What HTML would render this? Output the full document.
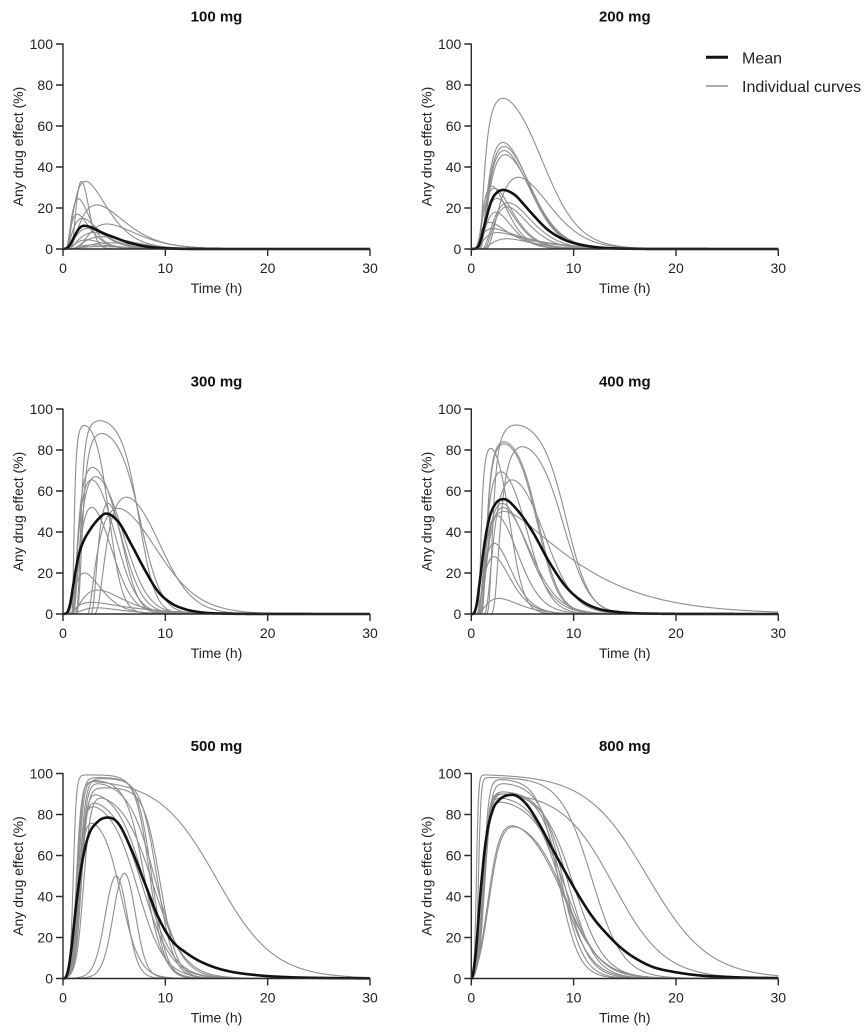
<!DOCTYPE html>
<html>
<head>
<meta charset="utf-8">
<style>
html,body{margin:0;padding:0;background:#fff;}
svg{display:block;}
.ax{stroke:#2a2a2a;stroke-width:1.4;fill:none;}
.tk{font-family:"Liberation Sans",Arial,sans-serif;font-size:14px;fill:#222;}
.lb{font-family:"Liberation Sans",Arial,sans-serif;font-size:14px;fill:#222;}
.tt{font-family:"Liberation Sans",Arial,sans-serif;font-size:15px;font-weight:bold;fill:#111;}
.lg{font-family:"Liberation Sans",Arial,sans-serif;font-size:16px;fill:#222;}
.ind{stroke:#8e8e8e;stroke-width:1.1;fill:none;}
.mean{stroke:#111;stroke-width:2.6;fill:none;stroke-linejoin:round;}
</style>
</head>
<body>
<svg width="867" height="1033" viewBox="0 0 867 1033" xmlns="http://www.w3.org/2000/svg">
<rect width="867" height="1033" fill="#fff"/>

<!-- Panel 1 -->
<g transform="translate(0,0)">
<g id="c0"></g>
<line class="ax" x1="63" y1="43.5" x2="63" y2="249"/>
<line class="ax" x1="62.3" y1="249" x2="370" y2="249"/>
<path class="ax" d="M56,249H63M56,208H63M56,167H63M56,126H63M56,85H63M56,44H63M63,249V256M165.33,249V256M267.67,249V256M370,249V256"/>
<text class="tk" x="53" y="254" text-anchor="end">0</text>
<text class="tk" x="53" y="213" text-anchor="end">20</text>
<text class="tk" x="53" y="172" text-anchor="end">40</text>
<text class="tk" x="53" y="131" text-anchor="end">60</text>
<text class="tk" x="53" y="90" text-anchor="end">80</text>
<text class="tk" x="53" y="49" text-anchor="end">100</text>
<text class="tk" x="63" y="273" text-anchor="middle">0</text>
<text class="tk" x="165.33" y="273" text-anchor="middle">10</text>
<text class="tk" x="267.67" y="273" text-anchor="middle">20</text>
<text class="tk" x="370" y="273" text-anchor="middle">30</text>
<text class="lb" x="216.5" y="293" text-anchor="middle">Time (h)</text>
<text class="lb" transform="translate(23,146.5) rotate(-90)" text-anchor="middle">Any drug effect (%)</text>
<text class="tt" x="216.5" y="21.5" text-anchor="middle">100 mg</text>
</g>

<!-- Panel 2 -->
<g transform="translate(408.3,0)">
<g id="c1"></g>
<line class="ax" x1="63" y1="43.5" x2="63" y2="249"/>
<line class="ax" x1="62.3" y1="249" x2="370" y2="249"/>
<path class="ax" d="M56,249H63M56,208H63M56,167H63M56,126H63M56,85H63M56,44H63M63,249V256M165.33,249V256M267.67,249V256M370,249V256"/>
<text class="tk" x="53" y="254" text-anchor="end">0</text>
<text class="tk" x="53" y="213" text-anchor="end">20</text>
<text class="tk" x="53" y="172" text-anchor="end">40</text>
<text class="tk" x="53" y="131" text-anchor="end">60</text>
<text class="tk" x="53" y="90" text-anchor="end">80</text>
<text class="tk" x="53" y="49" text-anchor="end">100</text>
<text class="tk" x="63" y="273" text-anchor="middle">0</text>
<text class="tk" x="165.33" y="273" text-anchor="middle">10</text>
<text class="tk" x="267.67" y="273" text-anchor="middle">20</text>
<text class="tk" x="370" y="273" text-anchor="middle">30</text>
<text class="lb" x="216.5" y="293" text-anchor="middle">Time (h)</text>
<text class="lb" transform="translate(23,146.5) rotate(-90)" text-anchor="middle">Any drug effect (%)</text>
<text class="tt" x="216.5" y="21.5" text-anchor="middle">200 mg</text>
</g>

<!-- Legend -->
<line x1="706" y1="57.3" x2="728" y2="57.3" stroke="#111" stroke-width="3"/>
<text class="lg" x="742" y="63.3">Mean</text>
<line x1="706" y1="86" x2="728" y2="86" stroke="#8e8e8e" stroke-width="1.5"/>
<text class="lg" x="742" y="92">Individual curves</text>

<!-- Panel 3 -->
<g transform="translate(0,365)">
<g id="c2"></g>
<line class="ax" x1="63" y1="43.5" x2="63" y2="249"/>
<line class="ax" x1="62.3" y1="249" x2="370" y2="249"/>
<path class="ax" d="M56,249H63M56,208H63M56,167H63M56,126H63M56,85H63M56,44H63M63,249V256M165.33,249V256M267.67,249V256M370,249V256"/>
<text class="tk" x="53" y="254" text-anchor="end">0</text>
<text class="tk" x="53" y="213" text-anchor="end">20</text>
<text class="tk" x="53" y="172" text-anchor="end">40</text>
<text class="tk" x="53" y="131" text-anchor="end">60</text>
<text class="tk" x="53" y="90" text-anchor="end">80</text>
<text class="tk" x="53" y="49" text-anchor="end">100</text>
<text class="tk" x="63" y="273" text-anchor="middle">0</text>
<text class="tk" x="165.33" y="273" text-anchor="middle">10</text>
<text class="tk" x="267.67" y="273" text-anchor="middle">20</text>
<text class="tk" x="370" y="273" text-anchor="middle">30</text>
<text class="lb" x="216.5" y="293" text-anchor="middle">Time (h)</text>
<text class="lb" transform="translate(23,146.5) rotate(-90)" text-anchor="middle">Any drug effect (%)</text>
<text class="tt" x="216.5" y="21.5" text-anchor="middle">300 mg</text>
</g>

<!-- Panel 4 -->
<g transform="translate(408.3,365)">
<g id="c3"></g>
<line class="ax" x1="63" y1="43.5" x2="63" y2="249"/>
<line class="ax" x1="62.3" y1="249" x2="370" y2="249"/>
<path class="ax" d="M56,249H63M56,208H63M56,167H63M56,126H63M56,85H63M56,44H63M63,249V256M165.33,249V256M267.67,249V256M370,249V256"/>
<text class="tk" x="53" y="254" text-anchor="end">0</text>
<text class="tk" x="53" y="213" text-anchor="end">20</text>
<text class="tk" x="53" y="172" text-anchor="end">40</text>
<text class="tk" x="53" y="131" text-anchor="end">60</text>
<text class="tk" x="53" y="90" text-anchor="end">80</text>
<text class="tk" x="53" y="49" text-anchor="end">100</text>
<text class="tk" x="63" y="273" text-anchor="middle">0</text>
<text class="tk" x="165.33" y="273" text-anchor="middle">10</text>
<text class="tk" x="267.67" y="273" text-anchor="middle">20</text>
<text class="tk" x="370" y="273" text-anchor="middle">30</text>
<text class="lb" x="216.5" y="293" text-anchor="middle">Time (h)</text>
<text class="lb" transform="translate(23,146.5) rotate(-90)" text-anchor="middle">Any drug effect (%)</text>
<text class="tt" x="216.5" y="21.5" text-anchor="middle">400 mg</text>
</g>

<!-- Panel 5 -->
<g transform="translate(0,729.5)">
<g id="c4"></g>
<line class="ax" x1="63" y1="43.5" x2="63" y2="249"/>
<line class="ax" x1="62.3" y1="249" x2="370" y2="249"/>
<path class="ax" d="M56,249H63M56,208H63M56,167H63M56,126H63M56,85H63M56,44H63M63,249V256M165.33,249V256M267.67,249V256M370,249V256"/>
<text class="tk" x="53" y="254" text-anchor="end">0</text>
<text class="tk" x="53" y="213" text-anchor="end">20</text>
<text class="tk" x="53" y="172" text-anchor="end">40</text>
<text class="tk" x="53" y="131" text-anchor="end">60</text>
<text class="tk" x="53" y="90" text-anchor="end">80</text>
<text class="tk" x="53" y="49" text-anchor="end">100</text>
<text class="tk" x="63" y="273" text-anchor="middle">0</text>
<text class="tk" x="165.33" y="273" text-anchor="middle">10</text>
<text class="tk" x="267.67" y="273" text-anchor="middle">20</text>
<text class="tk" x="370" y="273" text-anchor="middle">30</text>
<text class="lb" x="216.5" y="293" text-anchor="middle">Time (h)</text>
<text class="lb" transform="translate(23,146.5) rotate(-90)" text-anchor="middle">Any drug effect (%)</text>
<text class="tt" x="216.5" y="21.5" text-anchor="middle">500 mg</text>
</g>

<!-- Panel 6 -->
<g transform="translate(408.3,729.5)">
<g id="c5"></g>
<line class="ax" x1="63" y1="43.5" x2="63" y2="249"/>
<line class="ax" x1="62.3" y1="249" x2="370" y2="249"/>
<path class="ax" d="M56,249H63M56,208H63M56,167H63M56,126H63M56,85H63M56,44H63M63,249V256M165.33,249V256M267.67,249V256M370,249V256"/>
<text class="tk" x="53" y="254" text-anchor="end">0</text>
<text class="tk" x="53" y="213" text-anchor="end">20</text>
<text class="tk" x="53" y="172" text-anchor="end">40</text>
<text class="tk" x="53" y="131" text-anchor="end">60</text>
<text class="tk" x="53" y="90" text-anchor="end">80</text>
<text class="tk" x="53" y="49" text-anchor="end">100</text>
<text class="tk" x="63" y="273" text-anchor="middle">0</text>
<text class="tk" x="165.33" y="273" text-anchor="middle">10</text>
<text class="tk" x="267.67" y="273" text-anchor="middle">20</text>
<text class="tk" x="370" y="273" text-anchor="middle">30</text>
<text class="lb" x="216.5" y="293" text-anchor="middle">Time (h)</text>
<text class="lb" transform="translate(23,146.5) rotate(-90)" text-anchor="middle">Any drug effect (%)</text>
<text class="tt" x="216.5" y="21.5" text-anchor="middle">800 mg</text>
</g>
</svg>

<script>
(function(){
var X0=63, XS=307/30, Y0=249, YS=2.05, NS="http://www.w3.org/2000/svg";
function emaxP(P,tp,ke,g,lag){
  if(tp>=0.97/ke) ke=0.97/tp;
  var lo=ke*1.000001, hi=60;
  for(var i=0;i<80;i++){var mid=(lo+hi)/2; var h=Math.log(mid/ke)/(mid-ke); if(h>tp) lo=mid; else hi=mid;}
  var ka=(lo+hi)/2;
  var fm=Math.exp(-ke*tp)-Math.exp(-ka*tp);
  var Dg=P/(100-P);
  return function(t){var u=t-lag; if(u<=0) return 0; var r=(Math.exp(-ke*u)-Math.exp(-ka*u))/fm; if(r<=0) return 0; var x=Dg*Math.pow(r,g); return 100*x/(1+x);};
}
function logi(P,t1,w1,t2,w2){
  var r0=1/(1+Math.exp(t1/w1));
  function S(t){ if(t<=0) return 0; var r=(1/(1+Math.exp(-(t-t1)/w1))-r0)/(1-r0); if(r<0) r=0; return r/(1+Math.exp((t-t2)/w2)); }
  var m=0; for(var t=0;t<=30;t+=0.01){var v=S(t); if(v>m) m=v;}
  return function(t){return P*S(t)/m;};
}
function mono(pts){
  var n=pts.length, xs=[], ys=[], d=[], m=[], i;
  for(i=0;i<n;i++){xs.push(pts[i][0]); ys.push(pts[i][1]);}
  for(i=0;i<n-1;i++) d[i]=(ys[i+1]-ys[i])/(xs[i+1]-xs[i]);
  m[0]=d[0]; m[n-1]=d[n-2];
  for(i=1;i<n-1;i++){ if(d[i-1]*d[i]<=0) m[i]=0; else m[i]=(d[i-1]+d[i])/2; }
  for(i=0;i<n-1;i++){
    if(d[i]===0){m[i]=0;m[i+1]=0;continue;}
    var a=m[i]/d[i], b=m[i+1]/d[i], s=a*a+b*b;
    if(s>9){var tt=3/Math.sqrt(s); m[i]=tt*a*d[i]; m[i+1]=tt*b*d[i];}
  }
  return function(x){
    if(x<=xs[0]) return ys[0]; if(x>=xs[n-1]) return ys[n-1];
    var k=0; while(k<n-2 && x>xs[k+1]) k++;
    var h=xs[k+1]-xs[k], t=(x-xs[k])/h, t2=t*t, t3=t2*t;
    return (2*t3-3*t2+1)*ys[k]+(t3-2*t2+t)*h*m[k]+(-2*t3+3*t2)*ys[k+1]+(t3-t2)*h*m[k+1];
  };
}
function path(fn){
  var s='';
  for(var i=0;i<=600;i++){var t=i*0.05; var e=fn(t); if(!(e>0)) e=0; if(e>100) e=100;
    s+=(i?'L':'M')+(X0+XS*t).toFixed(2)+','+(Y0-YS*e).toFixed(2);}
  return s;
}
function add(id,fn,cls){
  var p=document.createElementNS(NS,'path'); p.setAttribute('d',path(fn)); p.setAttribute('class',cls);
  document.getElementById(id).appendChild(p);
}
var E=[
 [[33,1.3,0.7,6,0.5],[33,1.8,0.3,2,0.4],[21.5,2.7,0.25,2,0.6],[24.5,1.2,0.5,2.5,0.3],[17,1.1,0.45,2,0.3],[15,1.6,0.4,2,0.3],[12.2,3.0,0.25,2,1.3],[10,2.0,0.4,2,0.4],[8,2.5,0.35,2,0.5],[6,3.0,0.28,2,0.8],[4.5,1.8,0.4,2,0.5],[3,3.5,0.25,2,1.0],[2,2.5,0.35,2,0.5],[1.2,3,0.3,2,0.5]],
 [[73.5,2.4,0.22,2.5,0.7],[52,2.3,0.3,2.5,0.8],[50,2.4,0.3,2.5,0.8],[48,2.4,0.32,2.5,0.8],[46,2.5,0.28,2.5,0.8],[35,3.2,0.25,2.5,1.4],[30.7,1.5,0.35,2.5,0.5],[29.6,1.8,0.3,2.5,0.45],[24.7,1.9,0.35,2.5,0.6],[22.6,2.6,0.3,2.5,1.0],[20.6,2.3,0.3,2.5,1.2],[18,1.8,0.4,2.5,0.6],[13,1.4,0.25,1.8,0.4],[10,1.6,0.18,1.5,0.5],[8,2.0,0.2,1.5,0.6],[5,2.5,0.25,2,1.0]],
 [[94.3,2.5,0.33,5,1.1],[92,1.3,0.4,4,0.8],[88,2.6,0.33,4,1.2],[71.5,2.1,0.38,3,0.8],[67,2.3,0.35,3,0.9],[65.5,2.0,0.38,3,0.8],[57,3.2,0.28,3,3.0],[54,1.8,0.45,4,2.6],[52,2.0,0.38,3,0.8],[51.5,3.0,0.25,2,2.4],[20,1.6,0.4,2,0.5],[11.7,2.6,0.3,2,0.8],[5.7,2.2,0.15,1.5,0.6],[3,2.5,0.25,2,0.8]],
 [[92.2,3.0,0.3,4,1.4],[84,2.3,0.33,3.5,0.9],[83,2.3,0.35,3.5,0.9],[81.6,3.2,0.28,4,1.8],[80.8,1.3,0.45,3.5,0.6],[69.4,2.1,0.36,3,0.8],[65.4,2.8,0.3,3,1.2],[54,2.2,0.33,2.5,0.8],[52,2.3,0.3,2.5,0.8],[50,2.4,0.12,1.5,0.8],[48,1.9,0.35,2.5,0.6],[34.5,1.7,0.38,2.5,0.55],[28,1.7,0.35,2.5,0.5],[7.6,2.1,0.35,2,0.6]]
];
var L=[
 [[99.3,1.0,0.15,8.5,0.7],[96,1.3,0.25,15.0,2.8],[98,1.4,0.25,8.7,0.7],[97.5,1.6,0.3,9.2,0.8],[96.5,1.5,0.25,8.0,0.9],[93,1.8,0.3,9.5,0.8],[89.6,1.7,0.3,8.0,1.4],[85.5,1.6,0.3,7.8,1.4],[83.8,1.5,0.3,7.3,1.3],[75.7,1.5,0.3,5.7,0.9],[50,4.2,0.55,6.2,0.55],[51.3,5.0,0.55,7.0,0.55],[95,1.7,0.3,9.0,1.3],[88,2.0,0.35,8.8,1.5]],
 [[99.3,0.5,0.1,17.2,2.99],[98,0.7,0.12,11.75,1.52],[90,1.2,0.25,13.9,2.5],[97,1.2,0.25,8.5,1.0],[95,1.3,0.3,9.0,1.2],[91,1.2,0.3,9.5,1.3],[90,1.3,0.3,10,1.5],[88,1.1,0.3,8.8,1.4],[86,1.2,0.3,9.2,1.6],[90,1.2,0.28,8.9,1.06],[74.5,1.6,0.6,9.0,1.8],[74,1.7,0.6,9.2,1.7]]
];
var M=[
 [[0,0],[0.3,0.3],[0.6,1.5],[1,5],[1.5,9.5],[2,11.3],[2.5,11],[3,10],[4,7.6],[5,5.7],[6,3.8],[7,2.4],[8,1.3],[9,0.7],[10,0.35],[11,0.15],[12,0.06],[14,0.01],[30,0]],
 [[0,0],[0.4,0.2],[0.8,2.5],[1.33,12.5],[2,23.9],[2.5,27.5],[3.1,28.8],[4.27,26.3],[5,22.5],[5.9,17.4],[7.5,9.3],[9.15,4.4],[10.8,2],[12.4,0.8],[14,0.3],[16,0.1],[20,0.02],[30,0]],
 [[0,0],[0.35,0.4],[0.7,5],[1.0,14],[1.3,23],[1.6,30],[2.0,35.5],[2.5,40],[3.4,46],[4.2,49],[5.4,45],[6.7,33.7],[8,21.5],[9.3,10.9],[10.6,5.2],[11.9,2.4],[13.5,0.8],[15.8,0.2],[20,0.03],[30,0]],
 [[0,0],[0.2,0.1],[0.5,4],[0.78,14],[1.27,33.7],[1.76,46.7],[2.4,54],[3.2,56],[4.36,51.5],[6,40],[7.6,25.5],[9.25,13.3],[10.9,6],[12.5,2.4],[14.1,1.1],[15.8,0.4],[18,0.15],[22,0.03],[30,0]],
 [[0,0],[0.16,0.1],[0.5,4],[0.8,13.8],[1.3,36.6],[1.8,54.6],[2.44,69],[3.4,76.5],[4.4,78.5],[5.4,75.7],[6.7,62.7],[8,46.4],[9.3,30],[10.6,18.7],[11.9,13],[13.5,8.1],[15.8,4],[19,1.6],[22.3,0.6],[25,0.3],[30,0.05]],
 [[0,0],[0.07,0],[0.25,5],[0.46,13.8],[0.95,44.8],[1.43,67.6],[2.08,82],[2.7,87],[4,89.6],[5.3,85.5],[6.6,75.7],[7.9,63.5],[9.25,51.3],[10.55,40],[11.85,30],[13.2,22],[14.5,15.5],[15.8,10.6],[17.7,5.7],[19.7,3.3],[22.3,1.5],[24.9,0.8],[27,0.4],[30,0.2]]
];
var i,j,a;
for(i=0;i<4;i++){ for(j=0;j<E[i].length;j++){a=E[i][j]; add('c'+i, emaxP(a[0],a[1],a[2],a[3],a[4]), 'ind');} }
for(i=0;i<2;i++){ for(j=0;j<L[i].length;j++){a=L[i][j]; add('c'+(i+4), logi(a[0],a[1],a[2],a[3],a[4]), 'ind');} }
for(i=0;i<6;i++){ add('c'+i, mono(M[i]), 'mean'); }
})();
</script>
</body>
</html>
